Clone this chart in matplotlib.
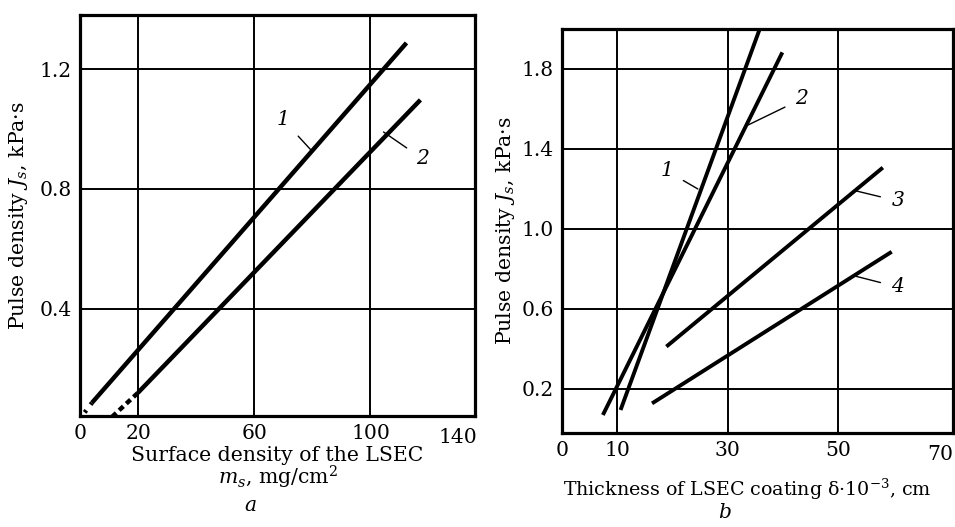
import matplotlib
matplotlib.use("Agg")
import matplotlib.pyplot as plt

plt.rcParams['font.family'] = ['DejaVu Serif']
plt.rcParams['mathtext.fontset'] = 'dejavuserif'

# panel a: pulse density vs surface density of the coating
a_x1 = [4.1, 112.4]
a_y1 = [0.087, 1.287]
a_x1_ext = [1.6, 4.1]
a_y1_ext = [0.055, 0.087]
a_x2 = [19.9, 117.2]
a_y2 = [0.12, 1.097]
a_x2_ext = [11.0, 19.9]
a_y2_ext = [0.04, 0.12]
a_xticks = [0, 20, 60, 100, 140]
a_yticks = [0.4, 0.8, 1.2]

# panel b: pulse density vs coating thickness, curves 1-4
b_x = {
    '1': [10.6, 35.8],
    '2': [7.4, 39.9],
    '3': [18.9, 58.1],
    '4': [16.3, 59.7],
}
b_y = {
    '1': [0.095, 2.0],
    '2': [0.07, 1.883],
    '3': [0.412, 1.307],
    '4': [0.128, 0.886],
}
b_xticks = [0, 10, 30, 50, 70]
b_yticks = [0.2, 0.6, 1.0, 1.4, 1.8]

fig = plt.figure(figsize=(9.55, 5.27), dpi=100)
ax1 = fig.add_axes([0.0838, 0.2106, 0.4136, 0.7609])
ax2 = fig.add_axes([0.5885, 0.1784, 0.4094, 0.7666])

fs = 14.7   # axis titles
tfs = 14.6  # tick labels and curve numbers


def style(ax):
    for s in ax.spines.values():
        s.set_linewidth(2.3)
    ax.grid(True, color='black', lw=1.4)
    ax.tick_params(length=0, labelsize=tfs, pad=6)
    ax.set_axisbelow(True)


# --- panel a ---
ax1.plot(a_x1, a_y1, color='black', lw=3.2, solid_capstyle='butt')
ax1.plot(a_x2, a_y2, color='black', lw=3.2, solid_capstyle='butt')
ax1.plot(a_x1_ext, a_y1_ext, color='black', lw=3.2, ls=(0, (0.6, 1.6)))
ax1.plot(a_x2_ext, a_y2_ext, color='black', lw=3.2, ls=(0, (1.3, 0.9)))
ax1.set_xlim(0, 136)
ax1.set_ylim(0.043, 1.38)
ax1.set_xticks(a_xticks[:-1])
ax1.set_yticks(a_yticks)
style(ax1)
ax1.text(1.005, -0.03, str(a_xticks[-1]), transform=ax1.transAxes,
         ha='right', va='top', fontsize=tfs)
ax1.annotate('1', xy=(79.5, 0.93), xytext=(70, 1.03), fontsize=tfs,
             style='italic', ha='center', va='center',
             arrowprops=dict(arrowstyle='-', color='black', lw=1,
                             shrinkA=6, shrinkB=0))
ax1.annotate('2', xy=(104.5, 0.99), xytext=(118, 0.9), fontsize=tfs,
             style='italic', ha='center', va='center',
             arrowprops=dict(arrowstyle='-', color='black', lw=1,
                             shrinkA=6, shrinkB=0))
ax1.set_xlabel('Surface density of the LSEC\n$m_s$, mg/cm$^2$', fontsize=fs,
               linespacing=0.95, labelpad=2)
ax1.set_ylabel('Pulse density $J_s$, kPa·s', fontsize=fs)
ax1.yaxis.set_label_coords(-0.127, 0.5)
fig.text(0.262, 0.04, 'a', fontsize=tfs, style='italic', ha='center',
         va='center')

# --- panel b ---
for k in b_x:
    ax2.plot(b_x[k], b_y[k], color='black', lw=2.8, solid_capstyle='butt')
ax2.set_xlim(0, 70.8)
ax2.set_ylim(-0.02, 2.0)
ax2.set_xticks(b_xticks[:-1])
ax2.set_yticks(b_yticks)
style(ax2)
ax2.text(1.0, -0.03, str(b_xticks[-1]), transform=ax2.transAxes,
         ha='right', va='top', fontsize=tfs)

labels_b = [
    ('1', (24.6, 1.2), (19.0, 1.29)),
    ('2', (33.7, 1.52), (43.4, 1.65)),
    ('3', (53.3, 1.19), (60.8, 1.14)),
    ('4', (53.3, 0.763), (60.8, 0.71)),
]
for txt, xy, xyt in labels_b:
    ax2.annotate(txt, xy=xy, xytext=xyt, fontsize=tfs, style='italic',
                 ha='center', va='center',
                 arrowprops=dict(arrowstyle='-', color='black', lw=1,
                                 shrinkA=6, shrinkB=0))
ax2.set_xlabel('Thickness of LSEC coating δ·10$^{-3}$, cm', fontsize=13.7)
ax2.xaxis.set_label_coords(0.475, -0.108)
ax2.set_ylabel('Pulse density $J_s$, kPa·s', fontsize=fs)
ax2.yaxis.set_label_coords(-0.115, 0.5)
fig.text(0.759, 0.027, 'b', fontsize=tfs, style='italic', ha='center',
         va='center')

fig.savefig('out.png', dpi=100)
